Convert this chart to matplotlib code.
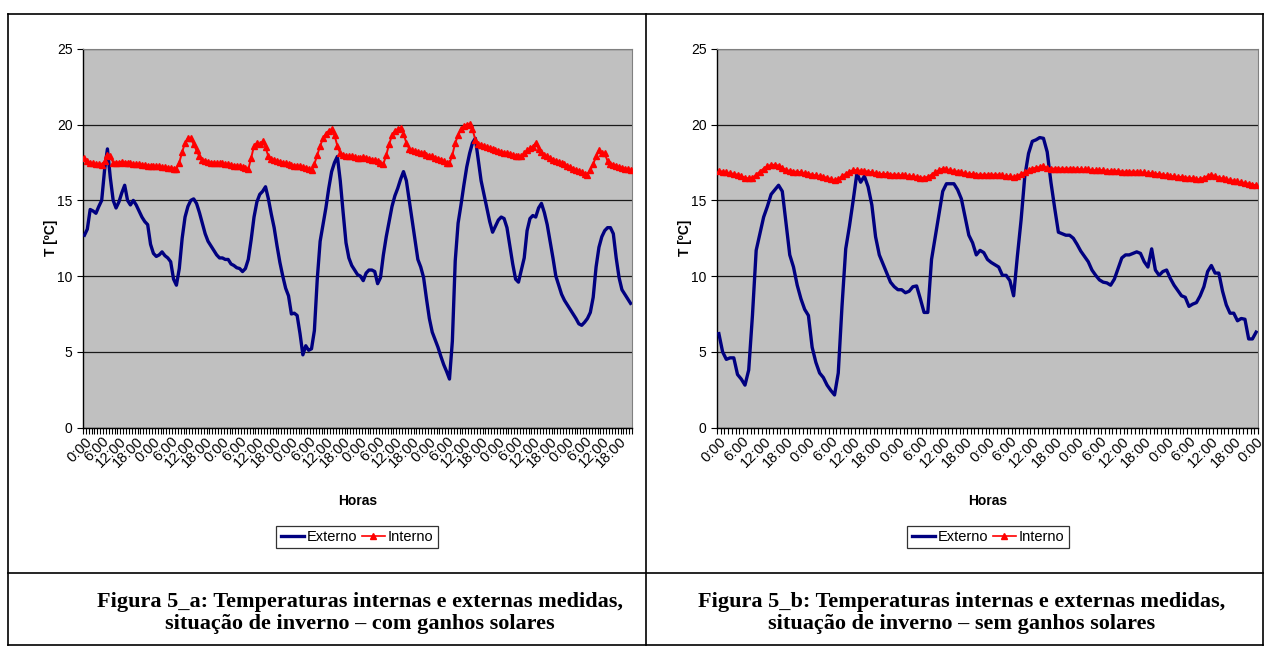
import matplotlib
matplotlib.use("Agg")
import matplotlib.pyplot as plt
from matplotlib.lines import Line2D

# ---- data (hourly readings) ----
externo_a = [
    12.7, 13.1, 14.4, 14.3, 14.15, 14.6, 15.0, 17.0, 18.4, 16.5,
    15.0, 14.5, 14.9, 15.5, 16.0, 15.0, 14.7, 15.0, 14.7, 14.3,
    13.9, 13.6, 13.4, 12.1, 11.5, 11.3, 11.4, 11.6, 11.35, 11.2,
    10.95, 9.8, 9.4, 10.5, 12.5, 13.9, 14.6, 15.0, 15.1, 14.8,
    14.2, 13.5, 12.8, 12.3, 12.0, 11.7, 11.4, 11.2, 11.2, 11.1,
    11.1, 10.8, 10.7, 10.55, 10.5, 10.3, 10.5, 11.1, 12.4, 13.9,
    14.9, 15.4, 15.6, 15.9, 15.1, 14.1, 13.2, 12.0, 10.9, 10.0,
    9.2, 8.7, 7.5, 7.55, 7.4, 6.2, 4.8, 5.4, 5.1, 5.2,
    6.4, 9.8, 12.3, 13.4, 14.5, 15.8, 16.9, 17.5, 17.9, 16.3,
    14.2, 12.2, 11.2, 10.7, 10.4, 10.1, 10.0, 9.7, 10.2, 10.4,
    10.4, 10.3, 9.5, 9.9, 11.4, 12.6, 13.6, 14.6, 15.3, 15.8,
    16.4, 16.9, 16.3, 15.0, 13.7, 12.4, 11.1, 10.6, 9.9, 8.5,
    7.2, 6.3, 5.8, 5.3, 4.7, 4.15, 3.7, 3.2, 5.7, 11.0,
    13.5, 14.7, 16.0, 17.2, 18.1, 18.8, 19.1, 17.7, 16.3, 15.4,
    14.5, 13.6, 12.9, 13.3, 13.7, 13.9, 13.8, 13.2, 12.0, 10.8,
    9.8, 9.6, 10.4, 11.2, 13.0, 13.8, 14.0, 13.9, 14.5, 14.8,
    14.2, 13.4, 12.3, 11.2, 10.0, 9.4, 8.8, 8.4, 8.1, 7.8,
    7.5, 7.2, 6.85, 6.75, 6.95, 7.2, 7.6, 8.6, 10.6, 11.9,
    12.6, 13.0, 13.2, 13.2, 12.8, 11.2, 9.9, 9.1, 8.8, 8.5,
    8.2,
]
interno_a = [
    17.8, 17.6, 17.5, 17.45, 17.4, 17.4, 17.35, 17.6, 18.0, 17.9,
    17.5, 17.5, 17.5, 17.55, 17.5, 17.5, 17.45, 17.4, 17.4, 17.4,
    17.35, 17.35, 17.3, 17.3, 17.3, 17.25, 17.25, 17.2, 17.2, 17.15,
    17.15, 17.1, 17.1, 17.5, 18.2, 18.8, 19.1, 19.1, 18.7, 18.3,
    17.9, 17.7, 17.6, 17.55, 17.5, 17.5, 17.45, 17.45, 17.45, 17.4,
    17.4, 17.35, 17.3, 17.3, 17.25, 17.2, 17.15, 17.05, 17.8, 18.6,
    18.8, 18.7, 18.9, 18.5, 17.9, 17.75, 17.65, 17.6, 17.55, 17.5,
    17.45, 17.4, 17.35, 17.3, 17.3, 17.25, 17.2, 17.15, 17.1, 17.0,
    17.4, 18.0, 18.6, 19.1, 19.4, 19.6, 19.7, 19.3, 18.6, 18.1,
    18.0, 17.95, 17.9, 17.9, 17.85, 17.8, 17.8, 17.85, 17.8, 17.75,
    17.7, 17.65, 17.6, 17.5, 17.4, 18.0, 18.7, 19.3, 19.6, 19.7,
    19.8, 19.4, 18.8, 18.4, 18.3, 18.25, 18.2, 18.15, 18.1, 18.0,
    17.95, 17.9, 17.8, 17.75, 17.7, 17.6, 17.5, 17.45, 18.0, 18.8,
    19.3, 19.7, 19.9, 20.0, 20.05, 19.7, 19.0, 18.75, 18.65, 18.6,
    18.5, 18.45, 18.4, 18.3, 18.25, 18.2, 18.15, 18.1, 18.05, 18.0,
    17.95, 17.9, 17.9, 18.1, 18.3, 18.45, 18.55, 18.8, 18.4, 18.2,
    18.0, 17.9, 17.8, 17.7, 17.6, 17.55, 17.45, 17.4, 17.3, 17.2,
    17.1, 17.0, 16.95, 16.85, 16.75, 16.7, 17.0, 17.4, 17.9, 18.3,
    18.1, 18.1, 17.6, 17.4, 17.35, 17.3, 17.2, 17.15, 17.1, 17.05,
    17.0,
]
externo_b = [
    6.2, 5.0, 4.5, 4.6, 4.6, 3.5, 3.2, 2.8, 3.8, 7.4,
    11.7, 12.8, 13.9, 14.6, 15.4, 15.7, 16.0, 15.6, 13.5, 11.4,
    10.6, 9.4, 8.5, 7.8, 7.4, 5.3, 4.3, 3.6, 3.3, 2.8,
    2.45, 2.15, 3.6, 8.0, 11.8, 13.3, 15.0, 16.8, 16.2, 16.6,
    15.9, 14.7, 12.6, 11.4, 10.8, 10.2, 9.6, 9.3, 9.1, 9.1,
    8.9, 9.0, 9.3, 9.35, 8.5, 7.6, 7.6, 11.1, 12.6, 14.1,
    15.6, 16.1, 16.1, 16.1, 15.7, 15.1, 13.9, 12.7, 12.2, 11.4,
    11.7, 11.55, 11.1, 10.9, 10.75, 10.6, 10.05, 10.05, 9.7, 8.7,
    11.3, 13.7, 16.6, 18.1, 18.9, 19.0, 19.15, 19.1, 18.2, 16.2,
    14.5, 12.9, 12.8, 12.7, 12.7, 12.5, 12.1, 11.65, 11.3, 10.95,
    10.4, 10.05, 9.75, 9.6, 9.55, 9.4, 9.8, 10.5, 11.2, 11.4,
    11.4, 11.5, 11.6, 11.5, 10.95, 10.6, 11.8, 10.4, 10.05, 10.3,
    10.4, 9.85, 9.4, 9.05, 8.7, 8.6, 8.0, 8.15, 8.25, 8.7,
    9.3, 10.3, 10.7, 10.2, 10.2, 9.0, 8.1, 7.55, 7.55, 7.05,
    7.2, 7.15, 5.85, 5.85, 6.3,
]
interno_b = [
    16.95, 16.9, 16.85, 16.8, 16.75, 16.7, 16.6, 16.5, 16.45, 16.5,
    16.7, 16.9, 17.1, 17.25, 17.35, 17.35, 17.3, 17.15, 17.0, 16.95,
    16.9, 16.9, 16.85, 16.8, 16.75, 16.7, 16.65, 16.6, 16.55, 16.5,
    16.4, 16.35, 16.4, 16.6, 16.75, 16.9, 17.0, 17.0, 16.95, 16.95,
    16.9, 16.85, 16.8, 16.75, 16.75, 16.75, 16.7, 16.7, 16.7, 16.65,
    16.65, 16.6, 16.6, 16.55, 16.5, 16.5, 16.55, 16.7, 16.85, 17.0,
    17.1, 17.05, 17.0, 16.95, 16.9, 16.85, 16.8, 16.75, 16.75, 16.7,
    16.7, 16.7, 16.7, 16.7, 16.7, 16.7, 16.65, 16.6, 16.6, 16.55,
    16.6, 16.75, 16.85, 17.0, 17.1, 17.15, 17.2, 17.25, 17.15, 17.1,
    17.1, 17.1, 17.1, 17.1, 17.1, 17.1, 17.1, 17.05, 17.05, 17.05,
    17.0, 17.0, 17.0, 17.0, 16.95, 16.95, 16.95, 16.95, 16.9, 16.9,
    16.9, 16.9, 16.9, 16.85, 16.85, 16.8, 16.8, 16.75, 16.75, 16.7,
    16.65, 16.6, 16.6, 16.55, 16.55, 16.5, 16.5, 16.45, 16.4, 16.4,
    16.5, 16.6, 16.7, 16.6, 16.5, 16.45, 16.4, 16.35, 16.3, 16.25,
    16.2, 16.15, 16.1, 16.05, 16.0,
]
hour_labels = ["0:00", "6:00", "12:00", "18:00"]
captions = [
    "Figura 5_a: Temperaturas internas e externas medidas,\nsituação de inverno – com ganhos solares",
    "Figura 5_b: Temperaturas internas e externas medidas,\nsituação de inverno – sem ganhos solares",
]

W, H = 1271, 646
plt.rcParams['font.family'] = ['Liberation Sans', 'DejaVu Sans']
fig = plt.figure(figsize=(W / 100, H / 100), dpi=100)


def px(x, y):
    return x / W, 1 - y / H


def draw_panel(left, width, ext, inte, caption, cx, capx):
    b = (H - 427.5) / H
    ax = fig.add_axes([left / W, b, width / W, 378.5 / H])
    ax.set_facecolor('#c0c0c0')
    n = len(ext)
    xs = [i + 0.5 for i in range(n)]
    ax.plot(xs, ext, color='#000080', lw=2.4, label='Externo', zorder=3)
    ax.plot(xs, inte, color='#ff0000', lw=1.4, marker='^', ms=5,
            mec='#ff0000', mfc='#ff0000', label='Interno', zorder=4)
    ax.set_xlim(0, n)
    ax.set_ylim(0, 25)
    ax.set_yticks(range(0, 26, 5))
    ax.yaxis.grid(True, color='#1a1a1a', lw=0.9)
    ax.set_axisbelow(True)
    for s in ('top', 'right'):
        ax.spines[s].set_color('#808080')
    for s in ('left', 'bottom'):
        ax.spines[s].set_color('black')
        ax.spines[s].set_linewidth(1.0)
    major = list(range(0, n, 6))
    ax.set_xticks([i + 0.5 for i in major])
    ax.set_xticklabels([hour_labels[(i // 6) % 4] for i in major],
                       rotation=45, ha='right', va='top',
                       rotation_mode='anchor', fontsize=10.5)
    ax.set_xticks(range(0, n + 1), minor=True)
    ax.tick_params(axis='x', which='both', length=4, width=0.8, direction='out', pad=5)
    ax.tick_params(axis='x', which='major', length=0)
    ax.tick_params(axis='y', length=4, width=0.8, labelsize=10)
    ax.set_xlabel('Horas', fontsize=10, fontweight='bold', labelpad=17)
    ax.set_ylabel('T [ºC]', fontsize=10, fontweight='bold', labelpad=-1)
    h = [Line2D([], [], color='#000080', lw=2.4),
         Line2D([], [], color='#ff0000', lw=1.2, marker='^', ms=4.5)]
    fig.legend(h, ['Externo', 'Interno'], loc='center',
               bbox_to_anchor=px(cx, 537), ncol=2, frameon=True, fancybox=False,
               edgecolor='black', fontsize=10.5, handlelength=1.6,
               handletextpad=0.2, columnspacing=0.3, borderpad=0.3,
               borderaxespad=0).get_frame().set_linewidth(0.9)
    fig.text(*px(capx, 613), caption, ha='center', va='center',
             fontsize=16, fontweight='bold', family='Liberation Serif',
             linespacing=1.2)


draw_panel(83, 549, externo_a, interno_a, captions[0], 357, 360)
draw_panel(717, 541, externo_b, interno_b, captions[1], 988, 962)

# table frame
for (x0, y0, x1, y1) in [(8, 14, 1263, 14), (8, 645, 1263, 645),
                         (8, 14, 8, 645), (1263, 14, 1263, 645),
                         (646, 14, 646, 645), (8, 573, 1263, 573)]:
    fig.add_artist(Line2D([x0 / W, x1 / W], [1 - y0 / H, 1 - y1 / H],
                          color='black', lw=1.2))

fig.savefig('out.png', dpi=100)
